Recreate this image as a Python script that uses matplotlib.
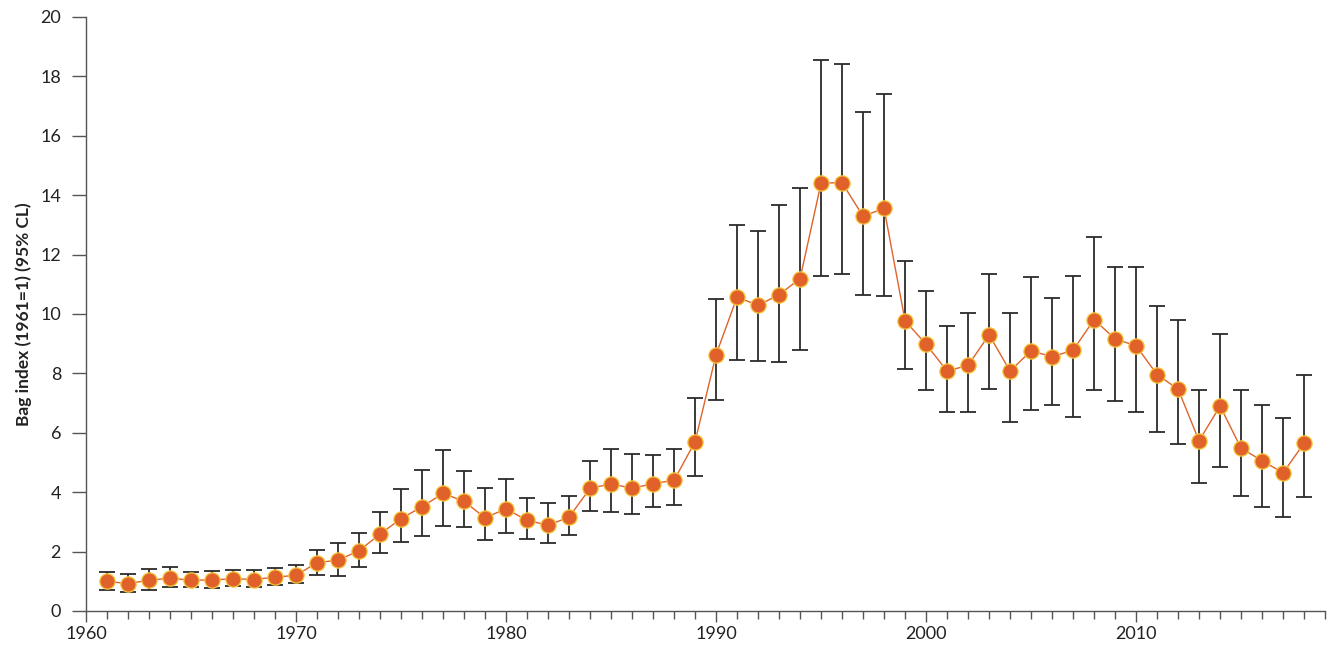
import matplotlib
matplotlib.use('Agg')
import matplotlib.pyplot as plt
from matplotlib.ticker import MultipleLocator
import numpy as np

# Werte
years = list(range(1961, 2019))
index = [1.00, 0.92, 1.04, 1.10, 1.04, 1.04, 1.09, 1.06, 1.14, 1.20,
         1.63, 1.71, 2.03, 2.59, 3.11, 3.51, 3.96, 3.69, 3.14, 3.44,
         3.05, 2.89, 3.16, 4.13, 4.28, 4.13, 4.29, 4.40, 5.70, 8.63,
         10.57, 10.29, 10.65, 11.19, 14.41, 14.42, 13.29, 13.56, 9.77, 8.98,
         8.08, 8.27, 9.30, 8.08, 8.76, 8.56, 8.78, 9.81, 9.16, 8.93,
         7.96, 7.47, 5.73, 6.90, 5.48, 5.06, 4.65, 5.65]
upper = [1.30, 1.26, 1.42, 1.48, 1.32, 1.35, 1.39, 1.37, 1.46, 1.54,
         2.05, 2.29, 2.64, 3.33, 4.11, 4.74, 5.42, 4.72, 4.13, 4.45,
         3.81, 3.63, 3.86, 5.04, 5.47, 5.30, 5.25, 5.47, 7.16, 10.52,
         13.01, 12.79, 13.68, 14.24, 18.54, 18.42, 16.81, 17.42, 11.80, 10.78,
         9.61, 10.04, 11.34, 10.04, 11.25, 10.54, 11.29, 12.58, 11.59, 11.59,
         10.28, 9.80, 7.44, 9.33, 7.45, 6.94, 6.50, 7.96]
lower = [0.71, 0.63, 0.71, 0.80, 0.80, 0.77, 0.85, 0.81, 0.88, 0.95,
         1.22, 1.19, 1.49, 1.94, 2.32, 2.53, 2.86, 2.84, 2.39, 2.62,
         2.42, 2.29, 2.55, 3.36, 3.33, 3.26, 3.49, 3.56, 4.56, 7.10,
         8.46, 8.42, 8.39, 8.79, 11.29, 11.35, 10.65, 10.62, 8.15, 7.44,
         6.69, 6.71, 7.49, 6.35, 6.77, 6.94, 6.54, 7.45, 7.08, 6.71,
         6.03, 5.63, 4.32, 4.86, 3.86, 3.49, 3.18, 3.85]

plt.rcParams['font.family'] = ['Lato', 'DejaVu Sans']

fig = plt.figure(figsize=(13.3, 6.46), dpi=100)
ax = fig.add_axes([0.0647, 0.0542, 0.9316, 0.9195])

y = np.array(index)
yerr = [y - np.array(lower), np.array(upper) - y]

ax.errorbar(years, y, yerr=yerr, fmt='none', ecolor='#2b2b2b',
            elinewidth=1.3, capsize=6, capthick=1.3, zorder=2)
ax.plot(years, y, '-', color='#e0622a', linewidth=1.0, zorder=3)
ax.plot(years, y, 'o', color='#e0622a', markersize=11,
        markeredgecolor='#f5c83a', markeredgewidth=0.9, zorder=4,
        linestyle='none')

ax.set_xlim(1960, 2019)
ax.set_ylim(0, 20)
ax.xaxis.set_major_locator(MultipleLocator(10))
ax.xaxis.set_minor_locator(MultipleLocator(1))
ax.yaxis.set_major_locator(MultipleLocator(2))

for s in ['top', 'right']:
    ax.spines[s].set_visible(False)
for s in ['left', 'bottom']:
    ax.spines[s].set_color('#555555')
    ax.spines[s].set_linewidth(1.0)

ax.tick_params(axis='y', which='major', length=10, width=1.0, color='#555555',
               labelsize=13, pad=8, labelcolor='#222222')
ax.tick_params(axis='x', which='major', length=8, width=1.0, color='#555555',
               labelsize=13, pad=3, labelcolor='#222222')
ax.tick_params(axis='x', which='minor', length=6, width=1.0, color='#555555')

ax.set_ylabel('Bag index (1961=1) (95% CL)', fontsize=12.5, fontweight='bold',
              color='#222222', labelpad=6)

fig.savefig('out.png', dpi=100)
